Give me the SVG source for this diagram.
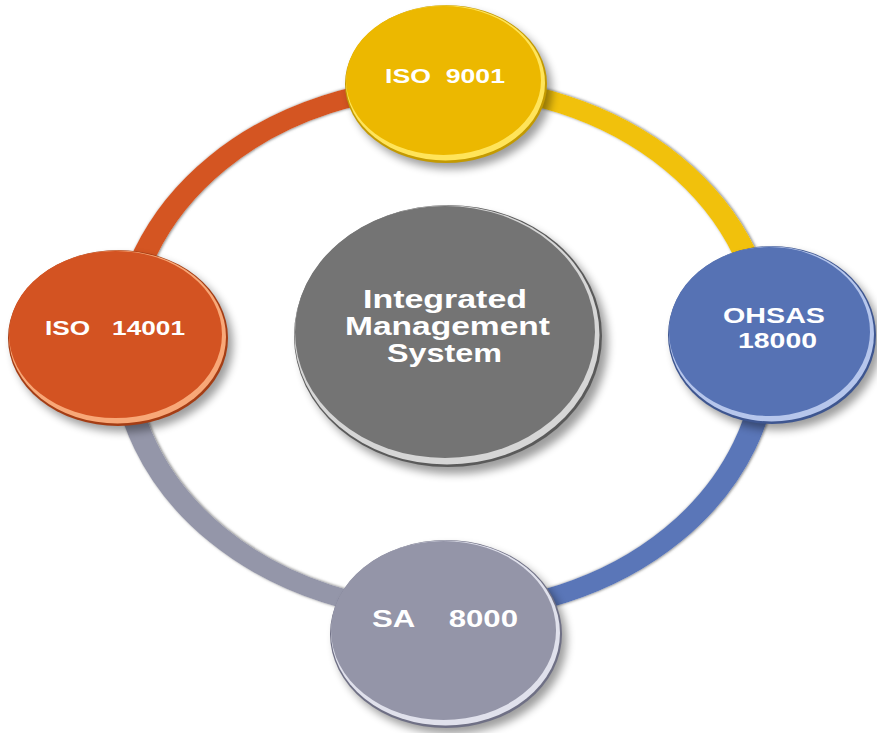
<svg xmlns="http://www.w3.org/2000/svg" width="877" height="733" viewBox="0 0 877 733">
  <defs>
    <filter id="blur4" x="-20%" y="-20%" width="140%" height="140%">
      <feGaussianBlur stdDeviation="4"/>
    </filter>
    <filter id="blur1" x="-10%" y="-10%" width="120%" height="120%">
      <feGaussianBlur stdDeviation="1.4"/>
    </filter>
  </defs>
  <style>
    .lbl { font-family: "Liberation Sans", Arial, Helvetica, sans-serif; font-weight: bold; fill: #ffffff; }
    .arc { fill: none; stroke-width: 19; stroke-linecap: butt; }
    .arc-sh { fill: none; stroke: #7a7a7a; stroke-width: 19; filter: url(#blur1); }
    .arc-hi { fill: none; stroke: #ffffff; stroke-width: 19; }
    .shadow { fill: #000000; opacity: 0.38; filter: url(#blur4); }
  </style>

  <rect width="877" height="733" fill="#ffffff"/>

  <!-- connectors: ring segments -->
  <g id="connectors">
    <g transform="translate(446,355) scale(1.25,1)">
      <path class="arc-sh" d="M -257.6 -6 A 257.6 263 0 0 1 0 -269 A 257.6 263 0 0 1 257.6 -6 A 257.6 263 0 0 1 0 257 A 257.6 263 0 0 1 -257.6 -6"/>
    </g>
    <g transform="translate(445,352) scale(1.25,1)">
      <path class="arc-hi" d="M -257.6 -3 A 257.6 263 0 0 1 0 -266 A 257.6 263 0 0 1 257.6 -3 A 257.6 263 0 0 1 0 260 A 257.6 263 0 0 1 -257.6 -3"/>
    </g>
    <g transform="translate(445,349) scale(1.25,1)">
      <path id="arc-left-top" class="arc" stroke="#D45522" d="M -257.6 0 A 257.6 263 0 0 1 0 -263"/>
      <path id="arc-top-right" class="arc" stroke="#F1C10C" d="M 0 -263 A 257.6 263 0 0 1 257.6 0"/>
      <path id="arc-right-bottom" class="arc" stroke="#5A76B8" d="M 257.6 0 A 257.6 263 0 0 1 0 263"/>
      <path id="arc-bottom-left" class="arc" stroke="#9496A9" d="M 0 263 A 257.6 263 0 0 1 -257.6 0"/>
    </g>
  </g>

  <!-- center node -->
  <g id="node-ims">
    <ellipse class="shadow" cx="454" cy="343" rx="154" ry="131"/>
    <ellipse cx="448" cy="336" rx="154" ry="131" fill="#5a5a5a"/>
    <ellipse cx="447" cy="335" rx="152.5" ry="129.5" fill="#d6d6d6"/>
    <ellipse cx="445" cy="332" rx="150" ry="126" fill="#747474"/>
    <text class="lbl" font-size="26.5" x="363" y="308" textLength="164" lengthAdjust="spacingAndGlyphs">Integrated</text>
    <text class="lbl" font-size="26.5" x="345" y="335" textLength="205" lengthAdjust="spacingAndGlyphs">Management</text>
    <text class="lbl" font-size="26.5" x="387" y="362" textLength="115" lengthAdjust="spacingAndGlyphs">System</text>
  </g>

  <!-- top node -->
  <g id="node-iso9001">
    <ellipse class="shadow" cx="451" cy="90" rx="101" ry="79"/>
    <ellipse cx="446" cy="84" rx="101" ry="79" fill="#c49a00"/>
    <ellipse cx="445.5" cy="83" rx="99.5" ry="77.5" fill="#ffe45a"/>
    <ellipse cx="443.5" cy="80.5" rx="97.5" ry="74.5" fill="#ECB800"/>
    <text class="lbl" font-size="21" x="385" y="83" textLength="120" lengthAdjust="spacingAndGlyphs" xml:space="preserve">ISO  9001</text>
  </g>

  <!-- right node -->
  <g id="node-ohsas18000">
    <ellipse class="shadow" cx="777" cy="341" rx="104" ry="89"/>
    <ellipse cx="772" cy="335" rx="104" ry="89" fill="#3e5690"/>
    <ellipse cx="771.5" cy="334" rx="102.5" ry="87.5" fill="#b6c6ec"/>
    <ellipse cx="769.5" cy="331.5" rx="100.5" ry="84.5" fill="#5672B4"/>
    <text class="lbl" font-size="22.5" x="723" y="323" textLength="102" lengthAdjust="spacingAndGlyphs">OHSAS</text>
    <text class="lbl" font-size="22.5" x="738" y="348" textLength="79" lengthAdjust="spacingAndGlyphs">18000</text>
  </g>

  <!-- bottom node -->
  <g id="node-sa8000">
    <ellipse class="shadow" cx="451" cy="640" rx="116" ry="94"/>
    <ellipse cx="446" cy="634" rx="116" ry="94" fill="#6f7085"/>
    <ellipse cx="445.5" cy="633" rx="114.5" ry="92.5" fill="#e0e1ec"/>
    <ellipse cx="443.5" cy="630.5" rx="112.5" ry="89.5" fill="#9495A8"/>
    <text class="lbl" font-size="24" x="372" y="627" textLength="146" lengthAdjust="spacingAndGlyphs" xml:space="preserve">SA    8000</text>
  </g>

  <!-- left node -->
  <g id="node-iso14001">
    <ellipse class="shadow" cx="123" cy="344" rx="110" ry="88"/>
    <ellipse cx="118" cy="338" rx="110" ry="88" fill="#a53d14"/>
    <ellipse cx="117.5" cy="337" rx="108.5" ry="86.5" fill="#f8a878"/>
    <ellipse cx="115.5" cy="334.5" rx="106.5" ry="83.5" fill="#D35322"/>
    <text class="lbl" font-size="21" x="45" y="335" textLength="140" lengthAdjust="spacingAndGlyphs" xml:space="preserve">ISO   14001</text>
  </g>
</svg>
